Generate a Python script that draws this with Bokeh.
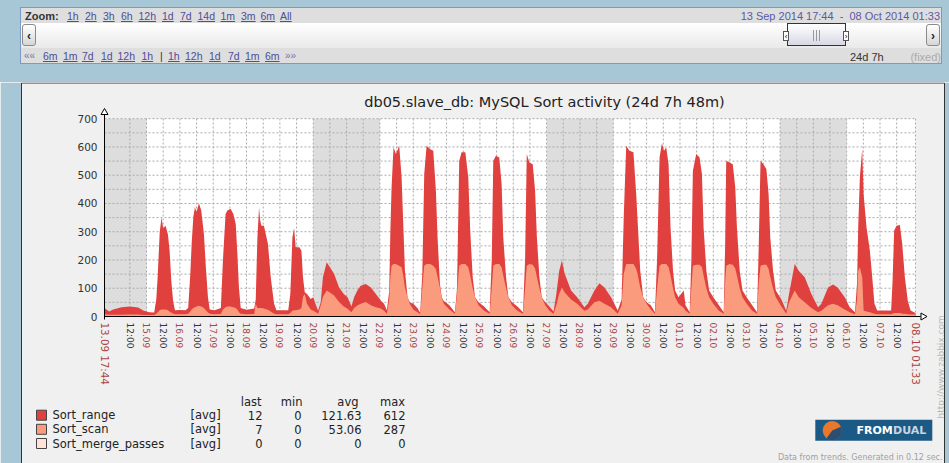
import math
from bokeh.plotting import figure
from bokeh.models import ColumnDataSource, LinearAxis, FixedTicker, Range1d, Div
from bokeh.layouts import column
from bokeh.core.properties import value
from bokeh.embed import file_html
from bokeh.resources import INLINE

# ---------------- data (hours since 13.09.2014 00:00) ----------------
t_hours = [
    17.74, 21, 24, 30, 36, 42, 46, 50, 53.5,
    55, 56, 57.5, 58.8, 60, 61.7, 63.4, 64.6, 65.8, 67.2, 68.5, 72, 76, 78,
    79.5, 80.5, 81.7, 82.8, 84, 85.7, 87.4, 89.3, 90.7, 92.2, 93.5, 97, 101.5,
    103, 104.9, 106.2, 108.5, 110.5, 112.2, 113.4, 114.5, 115.8, 120, 125.5,
    126.6, 127.8, 129, 129.8, 130.7, 132.5, 133.8, 135.4, 137.4, 139.8, 141.5, 150,
    151.5, 153, 154.2, 155.4, 158, 159.5, 160.6, 161.9, 163.5, 166.2, 168, 170, 171.5,
    173.4, 175, 177.7, 180, 183, 186.6, 190, 192.7, 195.5,
    197.4, 200, 202.2, 205.8, 209.5, 213.1, 216.7, 219, 221,
    222.7, 223.5, 224.4, 225.8, 227.5, 229.9, 231.6, 232.8, 234, 235.9, 237.5, 240, 243, 245,
    246.5, 247.9, 249.6, 252.2, 254.4, 256.3, 257.5, 259.2, 260.5, 262, 266, 270,
    271.5, 273.1, 274.8, 277.5, 279.6, 281, 282.8, 284.5, 287, 291, 295,
    296.5, 297.6, 299.5, 301.9, 303.6, 304.8, 306.8, 308.5, 311, 315, 319,
    320.5, 321.7, 323.6, 326, 327.7, 329, 330.8, 332.5, 335, 338, 341,
    343, 345, 347, 349, 353.6, 358, 363.2,
    365.6, 370.4, 374, 377.6, 382.4, 387.2,
    390, 391.5, 393.3, 395.6, 398.5, 400.5, 401.5, 403.4, 405.5, 408, 411, 414,
    415.5, 417.3, 419, 420.5, 422.1, 423.8, 425.2, 427, 428.5, 431, 434.7, 436, 439,
    440.2, 441.3, 443.7, 446.1, 447.8, 449, 451, 453, 456, 460, 463.5,
    464.5, 465.3, 467.7, 470, 471.8, 473, 475, 477, 480, 484, 487.5,
    488.7, 490, 492, 494.2, 495.8, 497, 499, 501, 505, 508.5,
    510.5, 514.6, 517.5, 521.8, 526.6, 531.4,
    533.8, 538.6, 542.2, 545.5, 550.6, 554.2, 558,
    559.5, 560.3, 561.5, 563.2, 564.2, 566.3, 568.7, 570.4, 572, 574, 584,
    585, 586.2, 587.9, 590.3, 592, 593.9, 596, 598, 601.55,
]
sort_range = [
    30, 18, 25, 33, 35, 32, 20, 15, 14,
    60, 140, 300, 350, 312, 321, 290, 233, 127, 51, 22, 23, 22, 30,
    150, 260, 353, 387, 370, 401, 375, 292, 174, 68, 25, 22, 30,
    200, 363, 375, 381, 363, 327, 221, 103, 30, 24, 28,
    60, 280, 387, 340, 321, 321, 292, 257, 139, 45, 22, 22,
    80, 280, 313, 245, 245, 233, 139, 86, 80, 62, 68, 40, 21,
    50, 140, 192, 174, 151, 103, 80, 68, 35,
    68, 95, 109, 115, 103, 80, 56, 45, 22,
    90, 300, 457, 599, 575, 604, 493, 327, 162, 68, 50, 45, 30, 12,
    150, 504, 604, 592, 587, 445, 280, 115, 68, 55, 40, 15,
    100, 551, 581, 581, 493, 304, 139, 68, 50, 35, 15,
    200, 551, 569, 563, 469, 280, 139, 68, 50, 35, 15,
    200, 575, 545, 539, 445, 280, 139, 68, 50, 35, 18,
    80, 160, 198, 151, 92, 68, 33,
    45, 92, 118, 103, 68, 21,
    60, 350, 604, 587, 581, 433, 339, 162, 68, 50, 40, 15,
    200, 563, 613, 587, 598, 539, 315, 162, 92, 68, 92, 40, 15,
    200, 516, 575, 563, 504, 315, 162, 92, 68, 40, 15,
    250, 551, 545, 539, 457, 315, 162, 92, 68, 40, 15,
    250, 551, 539, 522, 433, 280, 162, 92, 60, 20,
    80, 186, 162, 139, 80, 33,
    45, 103, 113, 103, 68, 33, 15,
    120, 315, 493, 594, 433, 315, 233, 139, 45, 21, 21,
    120, 304, 321, 324, 257, 139, 56, 21, 12,
]
sort_scan = [
    8, 6, 6, 6, 7, 7, 5, 5, 5,
    10, 14, 22, 25, 25, 25, 22, 18, 14, 10, 8, 8, 8, 10,
    18, 25, 30, 33, 35, 38, 35, 30, 22, 14, 10, 8, 9,
    25, 33, 35, 35, 33, 30, 25, 15, 10, 8, 9,
    45, 30, 30, 30, 30, 28, 26, 24, 18, 10, 8, 8,
    12, 20, 22, 22, 25, 30, 70, 80, 45, 25, 20, 15, 10,
    40, 70, 92, 85, 74, 51, 35, 27, 15,
    30, 40, 45, 51, 40, 33, 28, 20, 10,
    60, 140, 180, 186, 186, 180, 174, 145, 103, 68, 45, 25, 15, 8,
    100, 180, 186, 186, 180, 168, 140, 103, 68, 45, 25, 10,
    80, 180, 186, 186, 174, 145, 100, 68, 40, 20, 10,
    100, 180, 186, 186, 174, 145, 100, 68, 40, 20, 10,
    100, 180, 186, 183, 170, 140, 100, 68, 40, 20, 10,
    40, 80, 103, 85, 60, 45, 20,
    25, 50, 56, 45, 33, 10,
    40, 150, 186, 186, 186, 168, 150, 103, 68, 45, 25, 10,
    100, 180, 186, 186, 186, 175, 145, 100, 68, 45, 30, 20, 10,
    100, 180, 183, 183, 175, 145, 100, 68, 45, 20, 10,
    120, 180, 186, 183, 170, 145, 100, 68, 45, 20, 10,
    120, 180, 183, 183, 168, 140, 100, 68, 35, 10,
    50, 92, 68, 50, 30, 15,
    20, 40, 45, 40, 25, 15, 8,
    60, 162, 174, 139, 20, 18, 15, 12, 10, 8, 8,
    10, 12, 12, 12, 10, 10, 8, 7, 7,
]

legend_names = ["Sort_range", "Sort_scan", "Sort_merge_passes"]
legend_colors = ["#e0403e", "#f99b7c", "#ffe3d8"]
legend_last = ["12", "7", "0"]
legend_min = ["0", "0", "0"]
legend_avg = ["121.63", "53.06", "0"]
legend_max = ["612", "287", "0"]

y_ticks = [0, 100, 200, 300, 400, 500, 600, 700]
day_labels = ["15.09", "16.09", "17.09", "18.09", "19.09", "20.09", "21.09", "22.09",
              "23.09", "24.09", "25.09", "26.09", "27.09", "28.09", "29.09", "30.09",
              "01.10", "02.10", "03.10", "04.10", "05.10", "06.10", "07.10"]
start_label, end_label = "13.09 17:44", "08.10 01:33"
start_m, end_m = 17 * 60 + 44, 601 * 60 + 33          # minutes since 13.09 00:00
weekend_spans_h = [(17 + 44 / 60, 48), (168, 216), (336, 384), (504, 552)]
title_text = "db05.slave_db: MySQL Sort activity (24d 7h 48m)"

# ---------------- geometry (page pixels) ----------------
PAGE_W, PAGE_H = 949, 463
TOP_H = 82
X_START_PX, X_END_PX = 104.0, 915.0
Y0_PX, Y700_PX = 316.0, 118.2
mpp = (end_m - start_m) / (X_END_PX - X_START_PX)
upp = 700.0 / (Y0_PX - Y700_PX)


def fx(px):
    return start_m + (px - X_START_PX) * mpp


def fy(py):
    return (Y0_PX - py) * upp


FONT_NAME = "DejaVu Sans"
FONT = value(FONT_NAME)
BLUE_BG = "#a7c6d6"

p = figure(width=PAGE_W, height=PAGE_H - TOP_H, output_backend="svg", toolbar_location=None, tools="",
           x_range=Range1d(fx(0), fx(PAGE_W)), y_range=Range1d(fy(PAGE_H), fy(TOP_H)),
           x_axis_type=None, y_axis_type=None,
           min_border_left=0, min_border_right=0, min_border_top=0, min_border_bottom=0,
           margin=(0, 0, 0, 0))
p.outline_line_color = None
p.background_fill_color = "#f0f0f0"
p.border_fill_color = "#f0f0f0"

# plot area + weekend shading
p.quad(left=[start_m], right=[end_m], bottom=[0], top=[700], fill_color="white", line_color=None)
p.quad(left=[a * 60 for a, b in weekend_spans_h], right=[b * 60 for a, b in weekend_spans_h],
       bottom=0, top=700, fill_color="#dddddd", line_color=None)

# grid
noon_ticks = [(36 + 24 * i) * 60 for i in range(len(day_labels) + 1)]
mid_ticks = [(48 + 24 * i) * 60 for i in range(len(day_labels))]
vlines = sorted(noon_ticks + mid_ticks) + [end_m]
p.segment(x0=vlines, x1=vlines, y0=0, y1=700, line_color="#aaaaaa", line_width=1, line_dash="2 2")
hl = list(range(50, 701, 50))
p.segment(x0=start_m, x1=end_m, y0=hl, y1=hl, line_color="#aaaaaa", line_width=1, line_dash="2 2")

# series
src = ColumnDataSource(dict(x=[h * 60 for h in t_hours], r=sort_range, s=sort_scan))
p.varea(x="x", y1=0, y2="r", source=src, fill_color=legend_colors[0])
p.varea(x="x", y1=0, y2="s", source=src, fill_color=legend_colors[1])

# axes
axis_common = dict(major_tick_in=0, major_tick_out=0, minor_tick_in=0, minor_tick_out=0,
                   minor_tick_line_color=None, major_tick_line_color=None,
                   major_label_text_font=FONT_NAME)
yax = LinearAxis(fixed_location=start_m, ticker=FixedTicker(ticks=y_ticks), bounds=(fy(319), fy(114)),
                 axis_line_color="#000000", major_label_standoff=7,
                 major_label_text_font_size="10.5px", major_label_text_color="#333333", **axis_common)
p.add_layout(yax, "left")

date_over = {t: lbl for t, lbl in zip(mid_ticks, day_labels)}
dax = LinearAxis(fixed_location=0, ticker=FixedTicker(ticks=mid_ticks), major_label_overrides=date_over,
                 bounds=(start_m, fx(920)), axis_line_color="#000000", major_label_orientation="vertical",
                 major_label_standoff=6, major_label_text_font_size="9px",
                 major_label_text_color="#aa4444", **axis_common)
p.add_layout(dax, "below")
edge_over = {start_m: start_label, end_m: end_label}
eax = LinearAxis(fixed_location=0, ticker=FixedTicker(ticks=[start_m, end_m]), major_label_overrides=edge_over,
                 axis_line_color=None, major_label_orientation="vertical",
                 major_label_standoff=6, major_label_text_font_size="10.3px",
                 major_label_text_color="#aa4444", **axis_common)
p.add_layout(eax, "below")
noon_over = {t: "12:00" for t in noon_ticks}
nax = LinearAxis(fixed_location=0, ticker=FixedTicker(ticks=noon_ticks), major_label_overrides=noon_over,
                 axis_line_color=None, major_label_orientation="vertical",
                 major_label_standoff=6, major_label_text_font_size="9px",
                 major_label_text_color="#333333", **axis_common)
p.add_layout(nax, "below")

# axis arrows
p.scatter(x=[start_m], y=[fy(112)], marker="triangle", size=7, fill_color="white", line_color="black")
p.scatter(x=[fx(922.5)], y=[0], marker="triangle", angle=-math.pi / 2, size=7,
          fill_color="white", line_color="black")

# title
p.text(x=[fx(544)], y=[fy(101)], text=[title_text], text_font=FONT, text_font_size="14.5px",
       text_align="center", text_baseline="middle", text_color="#222222")

# legend table
row_y = [fy(414.7), fy(428.8), fy(443)]
p.rect(x=fx(41), y=row_y, width=10, height=10, width_units="screen", height_units="screen",
       fill_color=legend_colors, line_color="#444444")
lt = dict(text_font=FONT, text_font_size="11.5px", text_baseline="middle", text_color="#222222")
p.text(x=fx(52), y=row_y, text=legend_names, text_align="left", **lt)
p.text(x=fx(190), y=row_y, text=["[avg]"] * 3, text_align="left", **lt)
for col_px, vals in zip([262, 301, 361, 405], [legend_last, legend_min, legend_avg, legend_max]):
    p.text(x=fx(col_px), y=row_y, text=vals, text_align="right", **lt)
p.text(x=[fx(261), fx(302), fx(358), fx(404.5)], y=fy(401), text=["last", "min", "avg", "max"],
       text_align="right", **lt)

# logo
p.rect(x=[fx(873.3)], y=[fy(429.7)], width=117, height=21, width_units="screen", height_units="screen",
       fill_color="#1c5a86", line_color=None)
p.scatter(x=[fx(831.7)], y=[fy(430)], size=19, marker="circle", fill_color="#e9782c", line_color=None)
p.wedge(x=[fx(831.7)], y=[fy(430)], radius=9.5, radius_units="screen", start_angle=-2.2, end_angle=0.4,
        fill_color="#2d4e70", line_color=None)
p.text(x=[fx(856)], y=[fy(430)], text=["FROM"], text_font=FONT, text_font_style="bold",
       text_font_size="11px", text_baseline="middle", text_color="white")
p.text(x=[fx(892.5)], y=[fy(430)], text=["DUAL"], text_font=FONT, text_font_style="bold",
       text_font_size="11px", text_baseline="middle", text_color="#c9d5e0")

# small texts
p.text(x=[fx(942)], y=[fy(456.5)], text=["Data from trends. Generated in 0.12 sec."], text_font=FONT,
       text_font_size="8px", text_align="right", text_baseline="alphabetic", text_color="#a0a0a0")
p.text(x=[fx(940.5)], y=[fy(418)], text=["http://www.zabbix.com"], text_font=FONT, angle=math.pi / 2,
       text_font_size="9px", text_align="left", text_baseline="middle", text_color="#b8b8b8")

# page background strips and image border
p.quad(left=[fx(0), fx(944.5)], right=[fx(20.5), fx(PAGE_W)], bottom=fy(PAGE_H), top=fy(TOP_H),
       fill_color=BLUE_BG, line_color=None)
p.segment(x0=[fx(21), fx(944)], x1=[fx(21), fx(944)], y0=fy(82.5), y1=fy(PAGE_H),
          line_color="#333333", line_width=1)
p.segment(x0=[fx(21)], x1=[fx(944)], y0=[fy(82.5)], y1=[fy(82.5)], line_color="#333333", line_width=1)

# ---------------- top navigation bar ----------------
zoom_links = ["1h", "2h", "3h", "6h", "12h", "1d", "7d", "14d", "1m", "3m", "6m", "All"]
zoom_link_x = [46, 64, 82, 100, 117.5, 141, 159, 176.5, 199.5, 220, 239.5, 259]
nav_back = ["6m", "1m", "7d", "1d", "12h", "1h"]
nav_back_x = [22, 42, 61, 80, 96.5, 120.5]
nav_fwd = ["1h", "12h", "1d", "7d", "1m", "6m"]
nav_fwd_x = [147, 164, 188, 207, 224, 244]
LINK = "color:#4d4d9c;text-decoration:underline;font-size:10.5px;line-height:12px;"


def sp(x, y, txt, style):
    return (f'<span style="position:absolute;left:{x}px;top:{y}px;white-space:nowrap;'
            f'{style}">{txt}</span>')


parts = []
parts.append(sp(4, 2, "Zoom:", "font-weight:bold;font-size:11px;line-height:12px;color:#333;"))
for lbl, x in zip(zoom_links, zoom_link_x):
    parts.append(sp(x, 2, lbl, LINK))
parts.append('<span style="position:absolute;right:1px;top:2px;white-space:nowrap;font-size:11px;'
             'line-height:12px;color:#5a5aa6;">13 Sep 2014 17:44&nbsp;&nbsp;-&nbsp;&nbsp;08 Oct 2014 01:33</span>')
parts.append(sp(3, 42, "&laquo;&laquo;", "font-size:10px;line-height:12px;color:#7777aa;"))
for lbl, x in zip(nav_back, nav_back_x):
    parts.append(sp(x, 42, lbl, LINK))
parts.append(sp(139, 42, "|", "font-size:10.5px;line-height:12px;color:#333;"))
for lbl, x in zip(nav_fwd, nav_fwd_x):
    parts.append(sp(x, 42, lbl, LINK))
parts.append(sp(264, 42, "&raquo;&raquo;", "font-size:10px;line-height:12px;color:#7777aa;"))
parts.append(sp(829, 43, "24d 7h", "font-size:11px;line-height:12px;color:#333;"))
parts.append('<span style="position:absolute;right:0px;top:43px;font-size:11px;line-height:12px;'
             'color:#aaaaaa;">(fixed)</span>')

btn = ("position:absolute;top:16px;width:14px;height:22px;border:1px solid #8a8a8a;border-radius:3px;"
       "background:linear-gradient(#ffffff,#d6d6d6);font-weight:bold;font-size:12px;line-height:22px;"
       "text-align:center;color:#222;")
scroll = ('<div style="position:absolute;left:0;top:15px;width:922px;height:25px;'
          'background:linear-gradient(#ffffff,#e9e9e9);"></div>'
          f'<div style="{btn}left:1px;">&lsaquo;</div>'
          f'<div style="{btn}left:905px;">&rsaquo;</div>'
          '<div style="position:absolute;left:766px;top:15px;width:59px;height:23px;border:1px solid #333;'
          'background:linear-gradient(#ffffff,#d8d8e6);"></div>'
          '<div style="position:absolute;left:762px;top:23px;width:6px;height:10px;border:1px solid #555;'
          'background:#fff;font-size:8px;line-height:10px;text-align:center;">&lsaquo;</div>'
          '<div style="position:absolute;left:822px;top:23px;width:6px;height:10px;border:1px solid #555;'
          'background:#fff;font-size:8px;line-height:10px;text-align:center;">&rsaquo;</div>'
          '<div style="position:absolute;left:792px;top:22px;width:7px;height:11px;'
          'border-left:1px solid #999;border-right:1px solid #999;"></div>'
          '<div style="position:absolute;left:795px;top:22px;width:1px;height:11px;background:#999;"></div>')

html = (f'<div style="position:relative;width:{PAGE_W}px;height:{TOP_H}px;background:{BLUE_BG};overflow:hidden;'
        'font-family:\'Liberation Sans\',Arial,sans-serif;">'
        '<div style="position:absolute;left:20px;top:7px;width:922px;height:57px;border:1px solid #7b9bc6;'
        'background:#dedede;overflow:hidden;">'
        + scroll + "".join(parts) +
        '</div></div>')
top = Div(text=html, width=PAGE_W, height=TOP_H, margin=(0, 0, 0, 0))

layout = column(top, p, spacing=0)
open("out.html", "w").write(file_html(layout, INLINE))
